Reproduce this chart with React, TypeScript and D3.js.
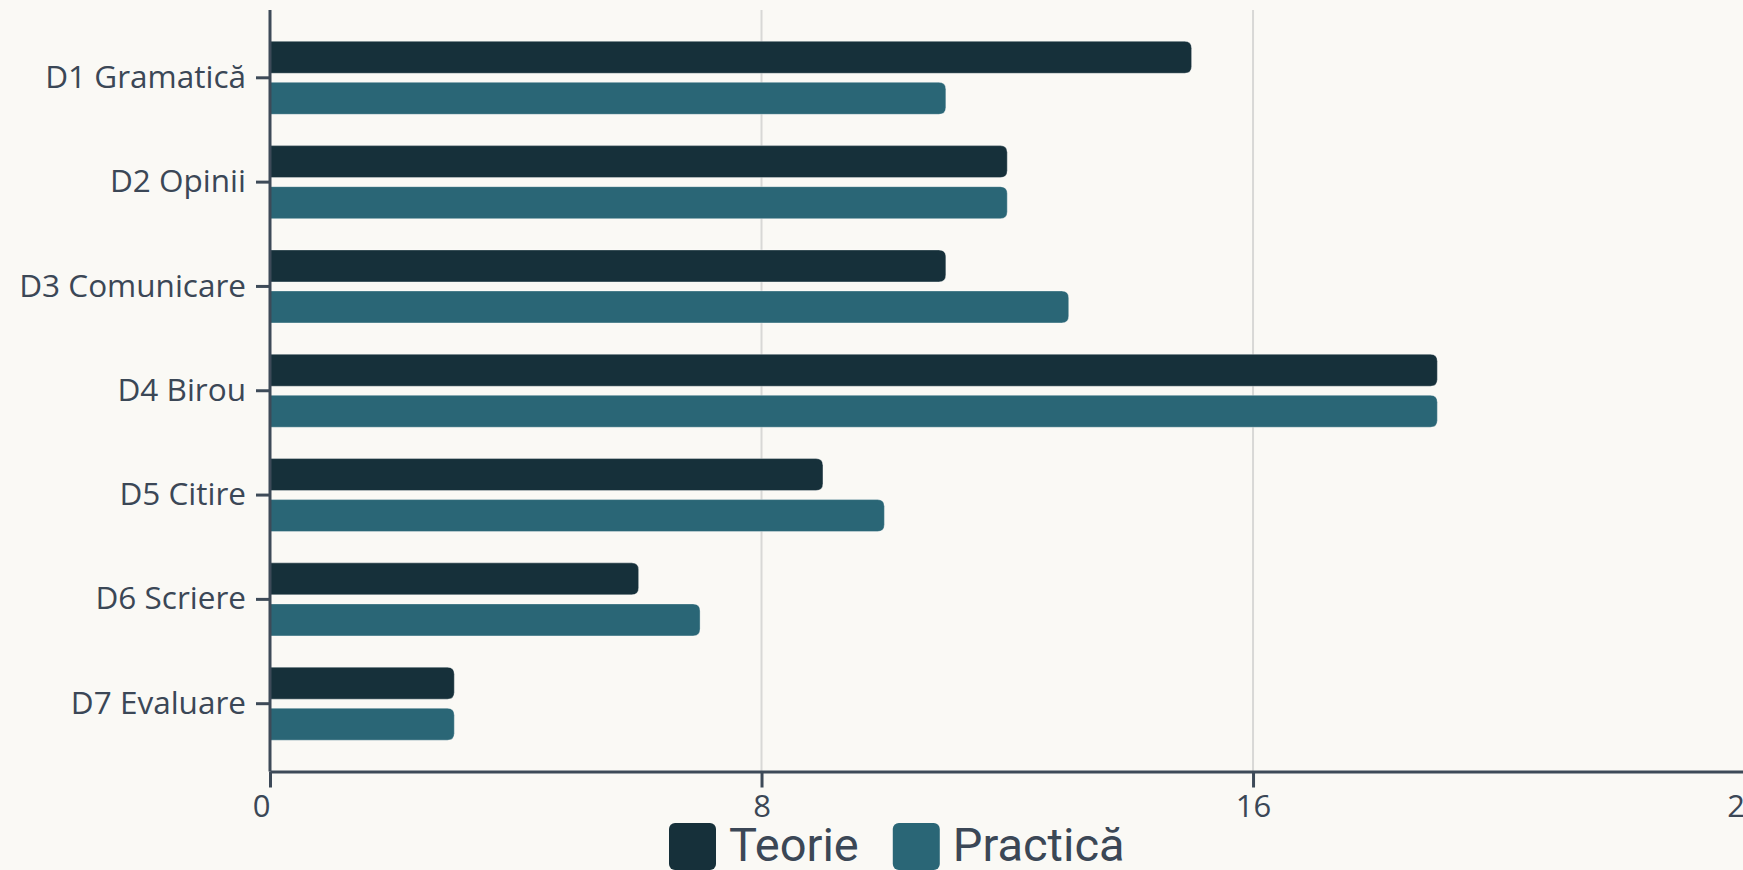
import React, { useEffect, useRef } from 'react';
import * as d3 from 'd3';

const categories = ['D1 Gramatică', 'D2 Opinii', 'D3 Comunicare', 'D4 Birou', 'D5 Citire', 'D6 Scriere', 'D7 Evaluare'];
const seriesNames = ['Teorie', 'Practică'];
const teorieValues = [15, 12, 11, 19, 9, 6, 3];
const practicaValues = [11, 12, 13, 19, 10, 7, 3];
const xTicks = [0, 8, 16, 24];
const seriesColors = ['#16303a', '#2a6676'];

const TEXT = '#3b4756';
const AXIS = '#3d4a58';

// bar with square left end and rounded right end
const barPath = (x0: number, x1: number, y: number, h: number, r: number) => {
  const rr = Math.min(r, (x1 - x0) / 2, h / 2);
  return `M${x0},${y}H${x1 - rr}Q${x1},${y} ${x1},${y + rr}V${y + h - rr}Q${x1},${y + h} ${x1 - rr},${y + h}H${x0}Z`;
};

const App = () => {
  const svgRef = useRef<SVGSVGElement>(null);

  useEffect(() => {
    const width = 1743;
    const height = 870;
    const svg = d3.select(svgRef.current);
    svg.selectAll('*').remove();

    svg.append('rect').attr('width', width).attr('height', height).attr('fill', '#faf9f5');

    const top = 10;
    const bottom = 771.5;
    const left = 270;

    const x = d3.scaleLinear().domain([0, 24]).range([left, left + 24 * 61.44]);
    const y = d3.scaleBand<string>().domain(categories).range([top, bottom]).paddingInner(0.3).paddingOuter(0.3);
    const ySub = d3.scaleBand<string>().domain(seriesNames).range([0, y.bandwidth()]).paddingInner(0.22);

    // grid
    svg.append('g')
      .selectAll('line')
      .data(xTicks.filter(d => d > 0))
      .join('line')
      .attr('x1', d => x(d))
      .attr('x2', d => x(d))
      .attr('y1', top)
      .attr('y2', bottom)
      .attr('stroke', '#d8d8d6')
      .attr('stroke-width', 2);

    const rows = categories.map((c, i) => ({ cat: c, values: [teorieValues[i], practicaValues[i]] }));

    const groups = svg.append('g')
      .selectAll('g')
      .data(rows)
      .join('g')
      .attr('transform', d => `translate(0,${y(d.cat)})`);

    groups.selectAll('path')
      .data(d => d.values.map((v, j) => ({ key: seriesNames[j], v, j })))
      .join('path')
      .attr('d', d => barPath(x(0), x(d.v), ySub(d.key) as number, ySub.bandwidth(), 7))
      .attr('fill', d => seriesColors[d.j])
      .attr('stroke', 'rgba(255,255,255,0.35)')
      .attr('stroke-width', 1);

    // x axis
    const xAxis = svg.append('g')
      .attr('transform', `translate(0,${bottom})`)
      .call(d3.axisBottom(x).tickValues(xTicks).tickSize(16).tickSizeOuter(0).tickPadding(7).tickFormat(d3.format('d')));
    xAxis.select('.domain').attr('stroke', AXIS).attr('stroke-width', 3);
    xAxis.selectAll('.tick line').attr('stroke', AXIS).attr('stroke-width', 3);
    xAxis.selectAll('.tick text')
      .attr('fill', TEXT)
      .attr('font-family', '"Open Sans", sans-serif')
      .attr('font-size', 31)
      .attr('dx', (d: any) => (d === 0 ? -9 : 0));

    // y axis
    const yAxis = svg.append('g')
      .attr('transform', `translate(${left},0)`)
      .call(d3.axisLeft(y).tickSize(14).tickSizeOuter(0).tickPadding(10));
    yAxis.select('.domain').attr('stroke', AXIS).attr('stroke-width', 3)
      .attr('d', `M0,${top}V${bottom}`);
    yAxis.selectAll('.tick line').attr('stroke', AXIS).attr('stroke-width', 3);
    yAxis.selectAll('.tick text')
      .attr('fill', TEXT)
      .attr('font-family', '"Open Sans", sans-serif')
      .attr('font-size', 31.5);

    // legend
    const legend = svg.append('g').attr('transform', 'translate(669,823)');
    let cx = 0;
    seriesNames.forEach((name, i) => {
      legend.append('rect')
        .attr('x', cx)
        .attr('y', 0)
        .attr('width', 47)
        .attr('height', 47)
        .attr('rx', 6)
        .attr('fill', seriesColors[i]);
      const t = legend.append('text')
        .attr('x', cx + 60)
        .attr('y', 37.5)
        .attr('fill', TEXT)
        .attr('font-family', 'Roboto, sans-serif')
        .attr('font-size', 47)
        .text(name);
      const w = (t.node() as SVGTextElement).getComputedTextLength();
      cx += 60 + w + 34;
    });
  }, []);

  return (
    <svg
      ref={svgRef}
      width={1743}
      height={870}
      style={{ position: 'absolute', left: 0, top: 0, display: 'block' }}
    />
  );
};

export default App;
